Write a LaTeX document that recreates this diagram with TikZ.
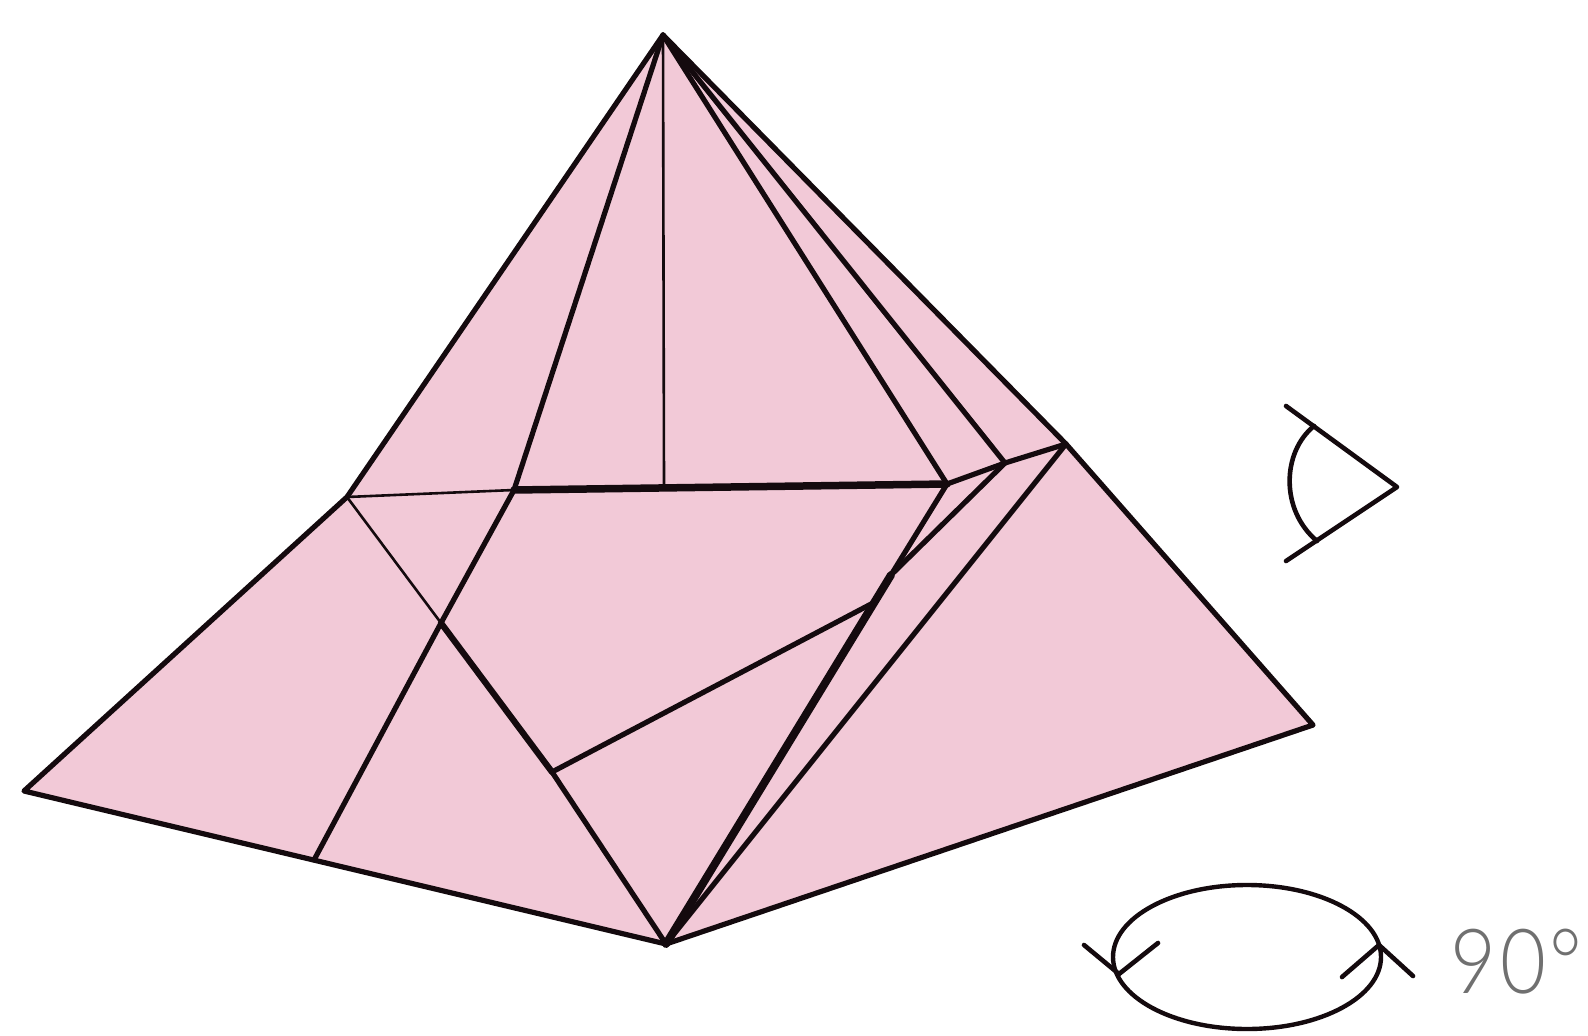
\documentclass[tikz,border=0pt]{standalone}
\usepackage{fontspec}
\usetikzlibrary{shapes.geometric}
\newfontfamily\labelfont[LetterSpace=5]{Lato Light}
\definecolor{paper}{HTML}{F2C9D7}
\definecolor{ink}{HTML}{140A0E}
\definecolor{greyink}{HTML}{707070}
\tikzset{
  base/.style={draw=ink,line width=5.2pt,line cap=round,line join=round},
  thick edge/.style={draw=ink,line width=7.5pt,line cap=round,line join=round},
  mid edge/.style={draw=ink,line width=6.2pt,line cap=round,line join=round},
  heavy low/.style={draw=ink,line width=8pt,line cap=round,line join=round},
  thin edge/.style={draw=ink,line width=2.6pt,line cap=round},
  symbol/.style={draw=ink,line width=4.6pt,line cap=round,line join=round},
}
\begin{document}
\begin{tikzpicture}[x=1pt,y=-1pt]
\useasboundingbox (0,0) rectangle (1588,1036);
% vertices
\coordinate (A) at (663,35);
\coordinate (RS) at (1066,444);
\coordinate (RT) at (1313,725);
\coordinate (Bt) at (666,944);
\coordinate (LT) at (24,791);
\coordinate (LS) at (347,497);
\coordinate (B) at (514,490);
\coordinate (M) at (664,487);
\coordinate (C) at (947,484);
\coordinate (D) at (1005,463);
\coordinate (E) at (441,623);
\coordinate (F) at (552,772);
\coordinate (G) at (873,603);
\coordinate (H) at (314,860);
\coordinate (J) at (891,575);
\fill[paper] (A) -- (RS) -- (RT) -- (Bt) -- (LT) -- (LS) -- cycle;
% thin
\draw[thin edge] (A) -- (M);
\draw[thin edge] (LS) -- (B);
\draw[thin edge] (LS) -- (E);
% regular
\draw[base] (LS) -- (A) -- (RS) -- (RT) -- (Bt) -- (LT) -- cycle;
\draw[base] (A) -- (B) -- (E) -- (H);
\draw[base] (A) -- (C);
\draw[base] (A) -- (D);
\draw[base] (C) -- (D) -- (RS);
\draw[base] (D) -- (J);
\draw[base] (RS) -- (Bt);
\draw[base] (F) -- (Bt);
\draw[base] (F) -- (G);
% heavy
\draw[thick edge] (B) -- (C);
\draw[base] (C) -- (J);
\draw[heavy low] (J) -- (Bt);
\draw[mid edge] (E) -- (F);
% eye
\coordinate (e1) at (1286,406);
\coordinate (e2) at (1397,487);
\coordinate (e3) at (1286,561);
\coordinate (e4) at (1314,426);
\coordinate (e5) at (1317,541);
\draw[symbol] (e1) -- (e2) -- (e3);
\draw[symbol] (e4) .. controls (1282,452) and (1280,510) .. (e5);
% rotation
\node[draw=ink,line width=4.4pt,ellipse,minimum width=268pt,minimum height=144pt,inner sep=0pt] (rot) at (1247,957) {};
\coordinate (r1) at (1084,945);
\coordinate (r2) at (1119,974);
\coordinate (r3) at (1158,943);
\coordinate (r4) at (1413,976);
\coordinate (r5) at (1379,945);
\coordinate (r6) at (1342,977);
\draw[symbol] (r1) -- (r2) -- (r3);
\draw[symbol] (r4) -- (r5) -- (r6);
\node[anchor=west,inner sep=0pt,text=greyink,xscale=.88,transform shape] (lab) at (1450,962) {\labelfont\fontsize{90}{90}\selectfont 90°};
\end{tikzpicture}
\end{document}
